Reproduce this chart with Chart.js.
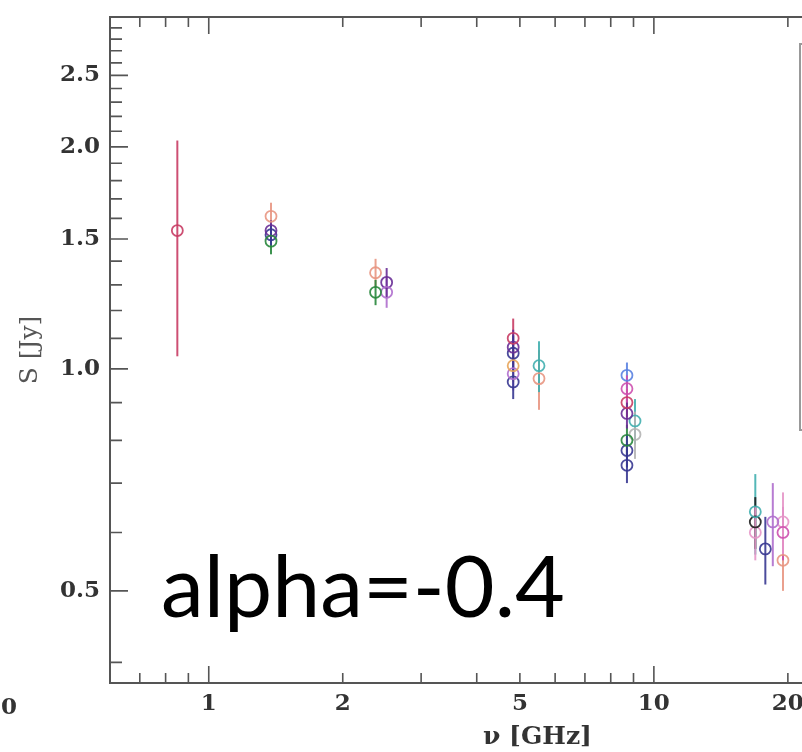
<!DOCTYPE html>
<html lang="en">
<head>
    <meta charset="UTF-8">
    <title>spectrum</title>
    <style type="text/css">
        html, body { margin: 0; padding: 0; overflow: hidden; background: #fff; }
        .chartBox { position: relative; width: 802px; height: 752px; overflow: hidden; }
        #spectrum { position: absolute; left: 0; top: 0; }
        #alpha {
            position: absolute; left: 161px; top: 541px;
            font: 86px Lato, sans-serif; line-height: 1; color: #000; white-space: nowrap;
        }
    </style>
</head>
<body>
    <div class="chartBox">
        <canvas id="spectrum" width="1000" height="752"></canvas>
        <div id="alpha">alpha=-0.4</div>
    </div>

    <script src="https://cdn.jsdelivr.net/npm/chart.js"></script>
    <script>
        // tick values
        const xTickValues = [1, 2, 5, 10, 20];
        const xMajorTicks = [1, 10];
        const xMinorTicks = [0.7, 0.8, 0.9, 2, 3, 4, 5, 6, 7, 8, 9, 20, 30, 40];
        const yTickValues = [0.5, 1.0, 1.5, 2.0, 2.5];
        const yMinorTicks = [0.4, 0.6, 0.7, 0.8, 0.9, 1.1, 1.2, 1.3, 1.4, 1.6, 1.7, 1.8, 1.9,
                             2.1, 2.2, 2.3, 2.4, 2.6, 2.7, 2.8, 2.9];

        // observations: frequency [GHz], flux [Jy], error [Jy]
        const obsCrimson  = { nu: [0.85, 4.83, 8.7], s: [1.54, 1.10, 0.90], err: [0.50, 0.07, 0.04] };
        const obsSalmon   = { nu: [1.38, 2.37, 5.52, 19.5], s: [1.61, 1.35, 0.97, 0.55], err: [0.07, 0.06, 0.09, 0.05] };
        const obsPurple   = { nu: [1.38, 2.51, 4.83, 8.7], s: [1.54, 1.31, 1.07, 0.87], err: [0.05, 0.06, 0.06, 0.04] };
        const obsNavy     = { nu: [1.38, 4.83, 4.83, 8.7, 8.7, 17.8], s: [1.52, 1.05, 0.96, 0.775, 0.74, 0.57], err: [0.05, 0.06, 0.05, 0.04, 0.04, 0.06] };
        const obsGreen    = { nu: [1.38, 2.37, 8.7], s: [1.49, 1.27, 0.80], err: [0.06, 0.05, 0.04] };
        const obsLavender = { nu: [2.51, 4.83, 18.5], s: [1.27, 0.985, 0.62], err: [0.06, 0.05, 0.08] };
        const obsTeal     = { nu: [5.52, 9.07, 16.9], s: [1.01, 0.85, 0.64], err: [0.08, 0.06, 0.08] };
        const obsBlue     = { nu: [8.7], s: [0.98], err: [0.04] };
        const obsMagenta  = { nu: [8.7, 19.5], s: [0.94, 0.60], err: [0.04, 0.05] };
        const obsBlack    = { nu: [16.9], s: [0.62], err: [0.05] };
        const obsPink     = { nu: [16.9, 19.5], s: [0.60, 0.62], err: [0.05, 0.06] };
        const obsOrange   = { nu: [4.83], s: [1.01], err: [0.05] };
        const obsGray     = { nu: [9.07], s: [0.815], err: [0.06] };

        function toPoints(o) {
            return o.nu.map((v, i) => ({ x: v, y: o.s[i], err: o.err[i] }));
        }
        function series(o, color) {
            return {
                data: toPoints(o),
                borderColor: color,
                backgroundColor: 'rgba(0,0,0,0)',
                pointRadius: 5.5,
                pointBorderWidth: 1.8,
                showLine: false
            };
        }

        const tickFont = { family: 'DejaVu Serif', size: 23, weight: 'bold' };

        // inward ticks, frame and error bars, placed through the chart scales
        const frameTicks = {
            id: 'frameTicks',
            beforeDatasetsDraw(chart) {
                const { ctx, scales: { x, y } } = chart;
                chart.data.datasets.forEach(ds => {
                    ctx.save();
                    ctx.strokeStyle = ds.borderColor;
                    ctx.lineWidth = 2;
                    ds.data.forEach(p => {
                        const px = x.getPixelForValue(p.x);
                        ctx.beginPath();
                        ctx.moveTo(px, y.getPixelForValue(p.y - p.err));
                        ctx.lineTo(px, y.getPixelForValue(p.y + p.err));
                        ctx.stroke();
                    });
                    ctx.restore();
                });
            },
            afterDraw(chart) {
                const { ctx, chartArea: a, scales: { x, y } } = chart;
                ctx.save();
                ctx.strokeStyle = '#555';
                ctx.lineWidth = 2;
                ctx.strokeRect(a.left, a.top, a.right - a.left, a.bottom - a.top);

                ctx.lineWidth = 1.6;
                const xt = (v, len) => {
                    const px = x.getPixelForValue(v);
                    ctx.beginPath();
                    ctx.moveTo(px, a.bottom); ctx.lineTo(px, a.bottom - len);
                    ctx.moveTo(px, a.top); ctx.lineTo(px, a.top + len);
                    ctx.stroke();
                };
                const yt = (v, len) => {
                    const py = y.getPixelForValue(v);
                    ctx.beginPath();
                    ctx.moveTo(a.left, py); ctx.lineTo(a.left + len, py);
                    ctx.moveTo(a.right, py); ctx.lineTo(a.right - len, py);
                    ctx.stroke();
                };
                xMajorTicks.forEach(v => xt(v, 17));
                xMinorTicks.forEach(v => xt(v, 10));
                yTickValues.forEach(v => yt(v, 18));
                yMinorTicks.forEach(v => yt(v, 12));

                // edge of the legend box at the right
                ctx.strokeStyle = '#999';
                ctx.lineWidth = 2;
                ctx.strokeRect(800, 44, 150, 386);

                // visible end of the neighbouring panel's label
                ctx.fillStyle = '#333';
                ctx.font = 'bold 23px "DejaVu Serif"';
                ctx.textAlign = 'right';
                ctx.textBaseline = 'middle';
                ctx.fillText('0', 17, 708);
                ctx.restore();
            }
        };

        const spectrum = new Chart(document.getElementById('spectrum').getContext('2d'), {
            type: 'scatter',
            data: {
                datasets: [
                    series(obsCrimson, 'rgba(200, 60, 100, 0.9)'),
                    series(obsSalmon, 'rgba(232, 150, 130, 0.9)'),
                    series(obsGreen, 'rgba(40, 135, 60, 0.9)'),
                    series(obsOrange, 'rgba(232, 165, 90, 0.9)'),
                    series(obsLavender, 'rgba(175, 110, 205, 0.9)'),
                    series(obsPurple, 'rgba(105, 45, 150, 0.9)'),
                    series(obsNavy, 'rgba(55, 55, 145, 0.9)'),
                    series(obsTeal, 'rgba(65, 175, 175, 0.9)'),
                    series(obsBlue, 'rgba(90, 130, 225, 0.9)'),
                    series(obsMagenta, 'rgba(205, 80, 175, 0.9)'),
                    series(obsGray, 'rgba(180, 180, 180, 0.9)'),
                    series(obsBlack, 'rgba(30, 30, 30, 0.9)'),
                    series(obsPink, 'rgba(230, 150, 200, 0.9)')
                ]
            },
            options: {
                responsive: false,
                animation: false,
                layout: { padding: { left: 0, top: 17, right: 35, bottom: 0 } },
                scales: {
                    x: {
                        type: 'logarithmic',
                        min: 0.605,
                        max: 50,
                        grid: { display: false, drawTicks: false },
                        border: { display: false },
                        afterBuildTicks: s => { s.ticks = xTickValues.map(v => ({ value: v })); },
                        afterFit: s => { s.height = 69; s.paddingLeft = 0; s.paddingRight = 0; },
                        ticks: {
                            autoSkip: false,
                            maxRotation: 0,
                            padding: 7,
                            color: '#333',
                            font: tickFont,
                            callback: v => String(v)
                        },
                        title: {
                            display: true,
                            text: 'ν [GHz]',
                            color: '#333',
                            font: { family: 'DejaVu Serif', size: 25, weight: 'bold' },
                            padding: { top: 0, bottom: 0 }
                        }
                    },
                    y: {
                        type: 'logarithmic',
                        min: 0.375,
                        max: 3.0,
                        grid: { display: false, drawTicks: false },
                        border: { display: false },
                        afterBuildTicks: s => { s.ticks = yTickValues.map(v => ({ value: v })); },
                        afterFit: s => { s.width = 110; s.paddingTop = 0; s.paddingBottom = 0; },
                        ticks: {
                            autoSkip: false,
                            padding: 10,
                            color: '#333',
                            font: tickFont,
                            callback: v => Number(v).toFixed(1)
                        },
                        title: {
                            display: true,
                            text: 'S [Jy]',
                            color: '#555',
                            font: { family: 'DejaVu Serif', size: 25 },
                            padding: { top: 15, bottom: 0 }
                        }
                    }
                },
                plugins: {
                    legend: { display: false },
                    tooltip: { enabled: false }
                }
            },
            plugins: [frameTicks]
        });
    </script>
</body>
</html>
